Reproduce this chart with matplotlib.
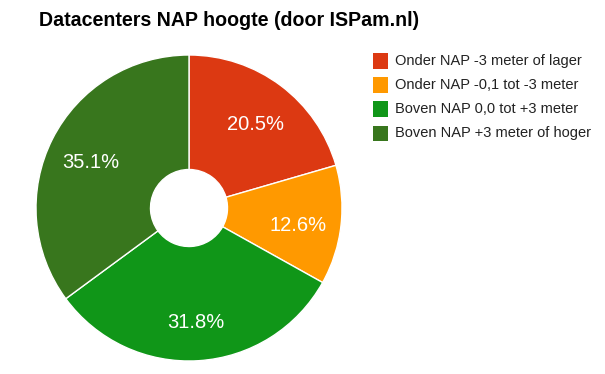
import matplotlib
matplotlib.use("Agg")
import matplotlib.pyplot as plt
from matplotlib.patches import Rectangle

title = "Datacenters NAP hoogte (door ISPam.nl)"
categories = ["Onder NAP -3 meter of lager", "Onder NAP -0,1 tot -3 meter",
              "Boven NAP 0,0 tot +3 meter", "Boven NAP +3 meter of hoger"]
values = [20.5, 12.6, 31.8, 35.1]
colors = ["#DC3912", "#FF9900", "#109618", "#38761D"]

W, H = 605, 374
fig = plt.figure(figsize=(W / 100, H / 100), dpi=100)
plt.rcParams['font.family'] = ['Liberation Sans', 'DejaVu Sans']

cx, cy, r = 189, 208, 153
ax = fig.add_axes([(cx - r) / W, (H - cy - r) / H, 2 * r / W, 2 * r / H])
wedges, texts, autotexts = ax.pie(
    values, colors=colors, startangle=90, counterclock=False,
    autopct='%1.1f%%', pctdistance=0.72,
    wedgeprops=dict(width=1 - 38.5 / r, edgecolor='white', linewidth=1),
    textprops=dict(color='white', fontsize=14.5))
for t in autotexts:
    x, y = t.get_position()
    t.set_position((x, y - 0.03))
ax.set_xlim(-1, 1)
ax.set_ylim(-1, 1)
ax.set_aspect('equal')
ax.axis('off')

fig.text(39 / W, 1 - 21 / H, title, fontsize=14.1, fontweight='bold',
         color='black', ha='left', va='center')

for i, (lab, col) in enumerate(zip(categories, colors)):
    yc = 61 + 24 * i
    fig.add_artist(Rectangle((373 / W, 1 - (yc + 7.5) / H), 15 / W, 15 / H,
                             transform=fig.transFigure, facecolor=col,
                             edgecolor='none'))
    fig.text(395 / W, 1 - yc / H, lab, fontsize=10.5, color='#222222',
             ha='left', va='center')

fig.savefig("out.png", dpi=100)
